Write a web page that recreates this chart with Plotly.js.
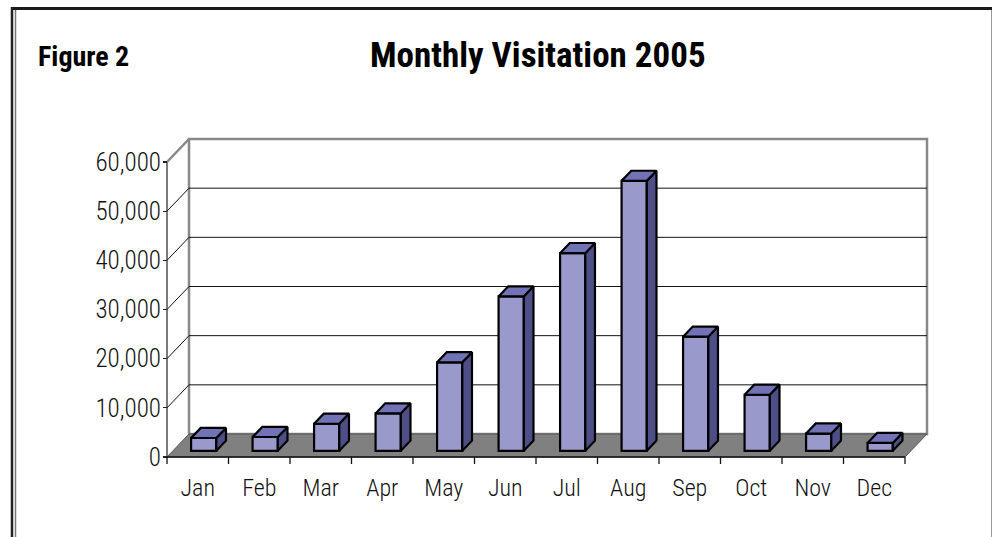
<!DOCTYPE html>
<html>
<head>
<meta charset="utf-8">
<script src="https://cdn.plot.ly/plotly-3.0.1.min.js"></script>
<style>
  html, body { margin: 0; padding: 0; background: #fff; }
  #chart { width: 992px; height: 537px; }
</style>
</head>
<body>
<div id="chart"></div>
<script>
// ---- data ----
const months = ["Jan", "Feb", "Mar", "Apr", "May", "Jun", "Jul", "Aug", "Sep", "Oct", "Nov", "Dec"];
const visitors = [2600, 2800, 5500, 7600, 18000, 31400, 40200, 54900, 23200, 11400, 3500, 1600];
const yTickVals = [0, 10000, 20000, 30000, 40000, 50000, 60000];
const chartTitle = "Monthly Visitation 2005";
const figureLabel = "Figure 2";

// ---- geometry (layout constants) ----
const W = 992, H = 537;
const M = { l: 164, r: 62, t: 136, b: 77 };
const PW = W - M.l - M.r, PH = H - M.t - M.b;
const CAT_PX = 61.5;                // pixels per category
const UNIT_PER_PX = 60000 / 295;    // value units per pixel
const PAD = 3;                      // px padding around floor/wall
const DX = 22 / CAT_PX;             // full depth offset in x (category units)
const DY = 23 * UNIT_PER_PX;        // full depth offset in y (value units)
const N = months.length;
const xRange = [-PAD / CAT_PX, -PAD / CAT_PX + PW / CAT_PX];
const yRange = [-PAD * UNIT_PER_PX, -PAD * UNIT_PER_PX + PH * UNIT_PER_PX];
const YTOP = yTickVals[yTickVals.length - 1];

const F0 = 0.27;      // depth of bar front face (fraction)
const BD = 0.44;      // bar depth (fraction)
const BW = 0.41;      // bar width (category units)

const xp = px => (px - M.l) / PW;          // pixel -> paper x
const yp = py => (H - M.b - py) / PH;      // pixel -> paper y

// ---- bars ----
const base = F0 * DY;
const bdx = BD * DX, bdy = BD * DY;
const centers = months.map((m, i) => i + 0.5 + F0 * DX);

const frontTrace = {
  type: "bar",
  x: centers,
  y: visitors,
  base: visitors.map(() => base),
  width: BW,
  marker: { color: "#9999CC", line: { color: "#000", width: 2.2 } },
  hoverinfo: "skip",
  showlegend: false
};

const sideX = [], sideY = [], topX = [], topY = [];
visitors.forEach((v, i) => {
  const xl = centers[i] - BW / 2, xr = centers[i] + BW / 2;
  const y0 = base, y1 = base + v;
  sideX.push(xr, xr + bdx, xr + bdx, xr, xr, null);
  sideY.push(y0, y0 + bdy, y1 + bdy, y1, y0, null);
  topX.push(xl, xr, xr + bdx, xl + bdx, xl, null);
  topY.push(y1, y1, y1 + bdy, y1 + bdy, y1, null);
});
const sideTrace = {
  type: "scatter", mode: "lines", x: sideX, y: sideY, fill: "toself",
  fillcolor: "#4F4F88", line: { color: "#000", width: 2.2 },
  hoverinfo: "skip", showlegend: false
};
const topTrace = {
  type: "scatter", mode: "lines", x: topX, y: topY, fill: "toself",
  fillcolor: "#7272B6", line: { color: "#000", width: 2.2 },
  hoverinfo: "skip", showlegend: false
};

// ---- walls, floor, gridlines ----
const shapes = [];
// back wall
shapes.push({ type: "rect", xref: "x", yref: "y", layer: "below",
  x0: DX, x1: N + DX, y0: DY, y1: YTOP + DY,
  fillcolor: "#fff", line: { color: "#888", width: 2.5 } });
// back gridlines and left-wall diagonals
yTickVals.forEach(v => {
  if (v === 0 || v === YTOP) return;
  shapes.push({ type: "line", xref: "x", yref: "y", layer: "below",
    x0: DX, x1: N + DX, y0: v + DY, y1: v + DY, line: { color: "#111", width: 1 } });
  shapes.push({ type: "line", xref: "x", yref: "y", layer: "below",
    x0: 0, x1: DX, y0: v, y1: v + DY, line: { color: "#111", width: 1 } });
});
// top-left diagonal edge
shapes.push({ type: "line", xref: "x", yref: "y", layer: "below",
  x0: 0, x1: DX, y0: YTOP, y1: YTOP + DY, line: { color: "#888", width: 2.5 } });
// floor
shapes.push({ type: "path", xref: "x", yref: "y", layer: "below",
  path: `M 0 0 L ${N} 0 L ${N + DX} ${DY} L ${DX} ${DY} Z`,
  fillcolor: "#808080", line: { color: "#555", width: 1 } });
// front x axis line
shapes.push({ type: "line", xref: "x", yref: "y", layer: "below",
  x0: 0, x1: N, y0: 0, y1: 0, line: { color: "#111", width: 1.5 } });
// front y axis line
shapes.push({ type: "line", xref: "paper", yref: "y", layer: "below",
  x0: xp(M.l + PAD), x1: xp(M.l + PAD), y0: 0, y1: YTOP, line: { color: "#333", width: 1.3 } });
// category boundary ticks
for (let i = 0; i <= N; i++) {
  shapes.push({ type: "line", xref: "x", yref: "paper", layer: "above",
    x0: i, x1: i, y0: PAD / PH, y1: (PAD - 7) / PH, line: { color: "#111", width: 1.3 } });
}
// page frame
shapes.push({ type: "line", xref: "paper", yref: "paper", x0: xp(11), x1: xp(992), y0: yp(8.5), y1: yp(8.5), line: { color: "#1a1a1a", width: 3 } });
shapes.push({ type: "line", xref: "paper", yref: "paper", x0: xp(12), x1: xp(12), y0: yp(7), y1: yp(537), line: { color: "#222", width: 2.5 } });
shapes.push({ type: "line", xref: "paper", yref: "paper", x0: xp(15.5), x1: xp(15.5), y0: yp(10), y1: yp(537), line: { color: "#777", width: 1.5 } });
shapes.push({ type: "line", xref: "paper", yref: "paper", x0: xp(991.5), x1: xp(991.5), y0: yp(10), y1: yp(537), line: { color: "#999", width: 1 } });

const FONT = '"Roboto Condensed", "DejaVu Sans Condensed", sans-serif';

const layout = {
  width: W, height: H, autosize: false,
  margin: M,
  paper_bgcolor: "#fff", plot_bgcolor: "rgba(0,0,0,0)",
  font: { family: FONT, color: "#111" },
  showlegend: false,
  xaxis: {
    range: xRange, fixedrange: true, showgrid: false, zeroline: false, showline: false,
    tickmode: "array", tickvals: months.map((m, i) => i + 0.5), ticktext: months,
    ticks: "", tickfont: { size: 24, family: FONT, color: "#111", weight: 300 },
    anchor: "free", position: PAD / PH, ticklabelstandoff: 14
  },
  yaxis: {
    range: yRange, fixedrange: true, showgrid: false, zeroline: false, showline: false,
    tickmode: "array", tickvals: yTickVals, tickformat: ",d",
    ticks: "outside", ticklen: 4, tickwidth: 1.3, tickcolor: "#222",
    tickfont: { size: 25, family: FONT, color: "#111", weight: 300 },
    anchor: "free", position: PAD / PW, ticklabelstandoff: -3
  },
  shapes: shapes,
  annotations: [
    { text: "<b>" + figureLabel + "</b>", xref: "paper", yref: "paper",
      x: xp(36), y: yp(56), xanchor: "left", yanchor: "middle", showarrow: false,
      font: { size: 28, family: FONT, color: "#000" } },
    { text: "<b>" + chartTitle + "</b>", xref: "paper", yref: "paper",
      x: xp(538), y: yp(55), xanchor: "center", yanchor: "middle", showarrow: false,
      font: { size: 35, family: FONT, color: "#000" } }
  ]
};

Plotly.newPlot("chart", [frontTrace, sideTrace, topTrace], layout, { staticPlot: true, displayModeBar: false });
</script>
</body>
</html>
